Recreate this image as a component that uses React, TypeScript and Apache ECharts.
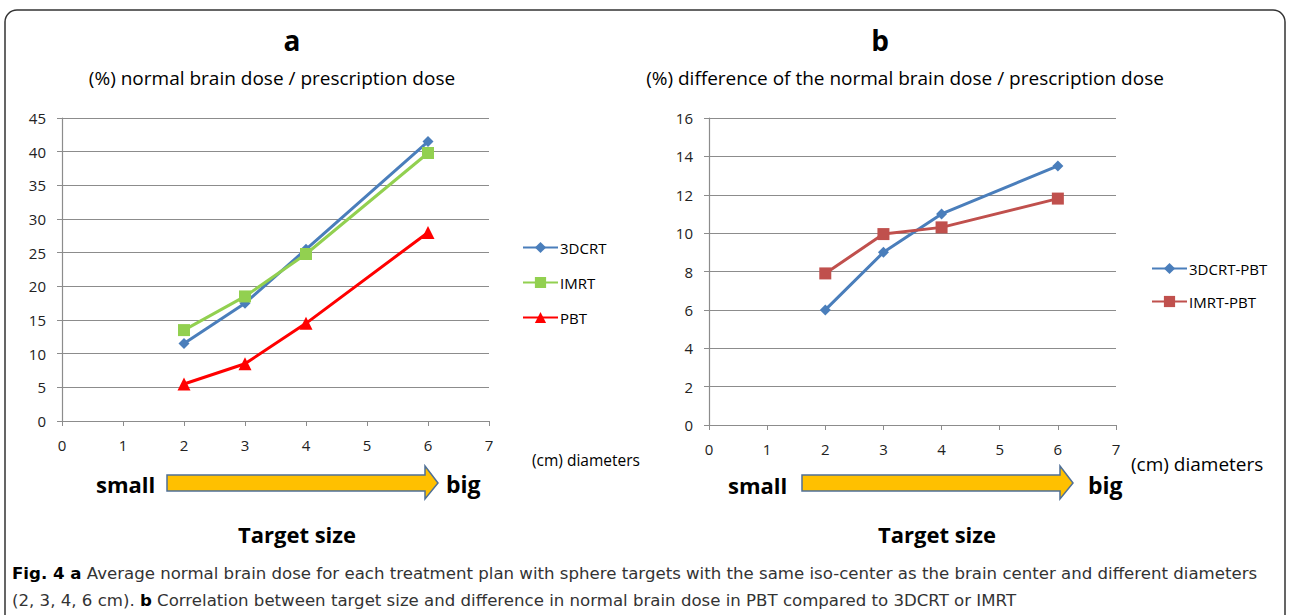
import React, { useEffect, useRef } from "react";
import * as echarts from "echarts";

const diameters = [2, 3, 4, 6];
const crt3d = [11.5, 17.5, 25.5, 41.5];
const imrt = [13.5, 18.5, 24.8, 39.8];
const pbt = [5.5, 8.5, 14.5, 28.0];
const crtMinusPbt = [6.0, 9.0, 11.0, 13.5];
const imrtMinusPbt = [7.9, 9.95, 10.3, 11.8];

const FONT = "'Open Sans', Lato, sans-serif";
const CAP_FONT = "'DejaVu Sans', sans-serif";
const GRID_COLOR = "#8c8c8c";

function pairs(ys: number[]) {
  return diameters.map((x, i) => [x, ys[i]]);
}

function arrow(x0: number) {
  // decorative arrow (x0 = left of shaft)
  return {
    type: "polygon",
    shape: {
      points: [
        [x0, 475],
        [x0 + 258, 475],
        [x0 + 258, 466],
        [x0 + 271, 483],
        [x0 + 258, 499],
        [x0 + 258, 491],
        [x0, 491],
      ],
    },
    style: { fill: "#FFC000", stroke: "#4f6f96", lineWidth: 1.5 },
  };
}

function txt(x: number, y: number, text: string, size: number, bold: boolean, align = "center") {
  return {
    type: "text",
    x,
    y,
    style: {
      text,
      font: `${bold ? "bold " : ""}${size}px ${FONT}`,
      fill: "#000",
      textAlign: align,
      textVerticalAlign: "middle",
    },
  };
}

export default function App() {
  const ref = useRef<HTMLDivElement>(null);
  useEffect(() => {
    if (!ref.current) return;
    const chart = echarts.init(ref.current, null, { renderer: "svg" });
    const xAxisBase = (gridIndex: number, margin: number) => ({
      type: "value",
      gridIndex,
      min: 0,
      max: 7,
      interval: 1,
      axisLine: { show: true, lineStyle: { color: GRID_COLOR, width: 1.2 } },
      axisTick: { show: true, inside: false, length: 5, lineStyle: { color: GRID_COLOR } },
      axisLabel: { color: "#222", fontSize: 15, fontFamily: FONT, margin },
      splitLine: { show: false },
    });
    const yAxisBase = (gridIndex: number, max: number, interval: number) => ({
      type: "value",
      gridIndex,
      min: 0,
      max,
      interval,
      axisLine: { show: true, lineStyle: { color: GRID_COLOR, width: 1.2 } },
      axisTick: { show: true, inside: false, length: 5, lineStyle: { color: GRID_COLOR } },
      axisLabel: { color: "#222", fontSize: 15, fontFamily: FONT, margin: 16 },
      splitLine: { show: true, lineStyle: { color: GRID_COLOR, width: 1.2 } },
    });
    const lineSeries = (
      name: string,
      data: number[],
      color: string,
      symbol: string,
      symbolSize: number,
      idx: number
    ) => ({
      name,
      type: "line",
      xAxisIndex: idx,
      yAxisIndex: idx,
      data: pairs(data),
      symbol,
      symbolSize,
      lineStyle: { color, width: 3 },
      itemStyle: { color },
      showSymbol: true,
    });
    const capRich = {
      b: { fontWeight: "bold", fontSize: 16.6, fontFamily: CAP_FONT, fill: "#000" },
    };
    chart.setOption({
      animation: false,
      backgroundColor: "#fff",
      textStyle: { fontFamily: FONT },
      grid: [
        { left: 62, top: 118, width: 427, height: 303 },
        { left: 709, top: 118, width: 407, height: 307 },
      ],
      xAxis: [xAxisBase(0, 16), xAxisBase(1, 16)],
      yAxis: [yAxisBase(0, 45, 5), yAxisBase(1, 16, 2)],
      legend: [
        {
          data: ["3DCRT", "IMRT", "PBT"],
          orient: "vertical",
          left: 517,
          top: 235,
          itemWidth: 35,
          itemHeight: 14,
          itemGap: 20,
          textStyle: { fontSize: 15, fontFamily: FONT, color: "#000", padding: [0, 0, 0, -3] },
        },
        {
          data: ["3DCRT-PBT", "IMRT-PBT"],
          orient: "vertical",
          left: 1146,
          top: 256,
          itemWidth: 35,
          itemHeight: 14,
          itemGap: 18,
          textStyle: { fontSize: 15, fontFamily: FONT, color: "#000", padding: [0, 0, 0, -3] },
        },
      ],
      series: [
        lineSeries("3DCRT", crt3d, "#4a7ebb", "diamond", 11, 0),
        lineSeries("IMRT", imrt, "#92d050", "rect", 12, 0),
        lineSeries("PBT", pbt, "#ff0000", "triangle", 13, 0),
        lineSeries("3DCRT-PBT", crtMinusPbt, "#4a7ebb", "diamond", 11, 1),
        lineSeries("IMRT-PBT", imrtMinusPbt, "#c0504d", "rect", 12, 1),
      ],
      graphic: [
        {
          type: "rect",
          shape: { x: 5, y: 10, width: 1280, height: 640, r: 12 },
          style: { fill: "none", stroke: "#333", lineWidth: 1.5 },
          silent: true,
        },
        txt(292, 40, "a", 28, true),
        txt(272, 78, "(%) normal brain dose / prescription dose", 19, false),
        txt(880, 40, "b", 28, true),
        txt(905, 78, "(%) difference of the normal brain dose / prescription dose", 19, false),
        txt(532, 460, "(cm) diameters", 15.5, false, "left"),
        txt(1131, 464, "(cm) diameters", 19, false, "left"),
        arrow(167),
        arrow(802),
        txt(96, 484, "small", 22, true, "left"),
        txt(446, 484, "big", 23, true, "left"),
        txt(728, 485, "small", 22, true, "left"),
        txt(1088, 485, "big", 23, true, "left"),
        txt(297, 534, "Target size", 22, true),
        txt(937, 534, "Target size", 22, true),
        {
          type: "text",
          x: 12,
          y: 573,
          style: {
            text: "{b|Fig. 4 a} Average normal brain dose for each treatment plan with sphere targets with the same iso-center as the brain center and different diameters",
            font: `16.6px ${CAP_FONT}`,
            fill: "#333",
            textVerticalAlign: "middle",
            rich: capRich,
          },
        },
        {
          type: "text",
          x: 12,
          y: 600,
          style: {
            text: "(2, 3, 4, 6 cm). {b|b} Correlation between target size and difference in normal brain dose in PBT compared to 3DCRT or IMRT",
            font: `16.6px ${CAP_FONT}`,
            fill: "#333",
            textVerticalAlign: "middle",
            rich: capRich,
          },
        },
      ],
    });
    return () => chart.dispose();
  }, []);
  return (
    <div
      ref={ref}
      style={{ position: "fixed", left: 0, top: 0, width: 1289, height: 615 }}
    />
  );
}
